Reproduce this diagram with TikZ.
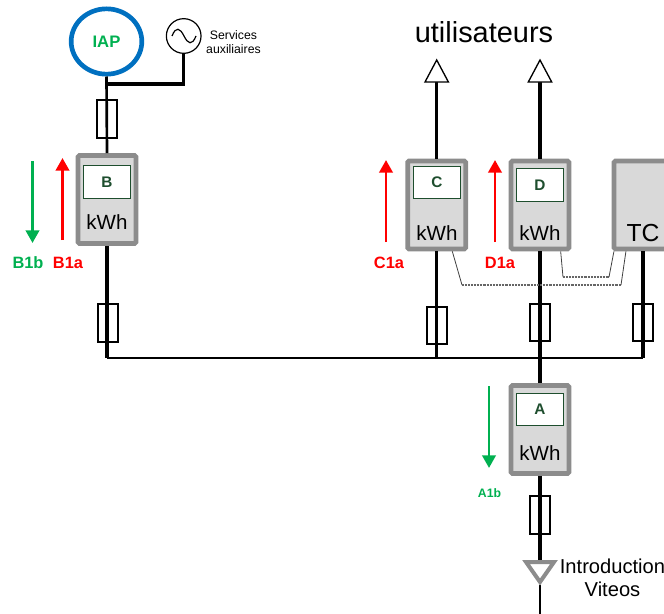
\documentclass[tikz,border=0pt]{standalone}
\usepackage{fontspec}
\setmainfont{Liberation Sans}
\usetikzlibrary{arrows.meta,shapes.geometric}
\tikzset{
  wire/.style={line width=2.5pt,color=black},
  thinwire/.style={line width=2pt,color=black},
  fuse/.style={shape=rectangle,draw,line width=1.7pt,minimum width=15pt,minimum height=28pt,inner sep=0pt},
  meter/.style={shape=rectangle,draw=meter_edge,fill=meter_bg,line width=3.5pt,rounded corners=1pt,minimum width=43.5pt,minimum height=66pt,inner sep=0pt},
  screen/.style={shape=rectangle,draw=screen_ink,fill=white,line width=0.7pt,minimum width=35.5pt,minimum height=24.5pt,inner sep=0pt,text=screen_ink,font=\fontsize{11.5}{12}\selectfont\bfseries},
  kwh/.style={inner sep=0pt,font=\fontsize{15.4}{16}\selectfont},
  sense/.style={line width=0.6pt,color=black!75},
  sensedot/.style={line width=0.8pt,color=black!60,dash pattern=on 0.7pt off 0.4pt},
  flowin/.style={line width=2.2pt,color=flow_green,-{Triangle[length=9.5pt,width=10pt]}},
  flowout/.style={line width=2.2pt,color=red,-{Triangle[length=9.5pt,width=10pt]}},
  flowlabel/.style={inner sep=0pt,font=\fontsize{12.3}{13}\selectfont\bfseries}
}
\begin{document}
\begin{tikzpicture}[x=0.75pt,y=-0.75pt]
\definecolor{meter_edge}{RGB}{140,140,140}
\definecolor{meter_bg}{RGB}{217,217,217}
\definecolor{screen_ink}{RGB}{30,78,46}
\definecolor{flow_green}{RGB}{0,176,80}
\definecolor{iap_blue}{RGB}{0,112,192}
\useasboundingbox (0,0) rectangle (664,614);

% source side
\node[shape=ellipse,draw=iap_blue,line width=3.5pt,minimum width=53pt,minimum height=49pt,inner sep=0pt,text=flow_green,font=\fontsize{12.5}{13}\selectfont\bfseries] (iap) at (106.5,41.5) {IAP};
\node[shape=circle,draw,line width=0.9pt,minimum size=26pt,inner sep=0pt] (gen) at (183.7,36) {};
\draw[line width=0.9pt] (172,36) .. controls (176,26) and (180,28) .. (184,36) .. controls (188,44) and (192,46) .. (196,36);
\node[align=center,inner sep=0pt,font=\fontsize{9.2}{10.5}\selectfont] (aux) at (233.5,42) {Services\\auxiliaires};

% meters
\node[meter] (meterB) at (107,199.5) {};
\node[meter] (meterC) at (436.7,205) {};
\node[meter] (meterD) at (540,205) {};
\node[meter] (meterA) at (540,429.5) {};
\node[meter] (meterTC) at (643,205) {};
\node[screen] (screenB) at (107,182) {B};
\node[screen] (screenC) at (437,182.5) {C};
\node[screen] (screenD) at (540,185) {D};
\node[screen] (screenA) at (540,409.5) {A};
\node[kwh] (kwhB) at (107,222) {kWh};
\node[kwh] (kwhC) at (437,233) {kWh};
\node[kwh] (kwhD) at (540,233) {kWh};
\node[kwh] (kwhA) at (540,453) {kWh};
\node[inner sep=0pt,font=\fontsize{18.5}{19}\selectfont] (tc) at (643,233) {TC};

% fuses
\node[fuse] (fuseS) at (107,119) {};
\node[fuse] (fuseB) at (108,323) {};
\node[fuse] (fuseC) at (437,325.5) {};
\node[fuse] (fuseD) at (540,322.5) {};
\node[fuse] (fuseT) at (643,322.5) {};
\node[fuse] (fuseA) at (540,515) {};

% wiring
\coordinate (tapS) at (107,84);
\coordinate (tapG) at (183.7,84);
\coordinate (busB) at (107,358);
\coordinate (busC) at (436.7,358);
\coordinate (busD) at (540,358);
\coordinate (busT) at (643,358);
\coordinate (loadC) at (436.7,82);
\coordinate (loadD) at (540,82);
\coordinate (feed) at (540,560);
\coordinate (feedout) at (540,585);
\coordinate (feedend) at (540,614);
\draw[thinwire] (iap.south) to (meterB.north);
\draw[wire,line join=miter] (tapS) to (tapG) to (gen.south);
\draw[wire] (meterB.south) to (busB);
\draw[thinwire] (busB) to (busT);
\draw[wire] (meterC.south) to (busC);
\draw[wire] (meterD.south) to (meterA.north);
\draw[wire] (meterTC.south) to (busT);
\draw[wire] (loadC) to (meterC.north);
\draw[wire] (loadD) to (meterD.north);
\draw[wire] (meterA.south) to (feed);
\draw[line width=1.8pt] (feedout) to (feedend);

% load and feed triangles
\draw[line width=1pt,fill=white] (425,82) to (436.7,60) to (448.4,82) to cycle;
\draw[line width=1pt,fill=white] (528.3,82) to (540,60) to (551.7,82) to cycle;
\draw[line width=3pt,draw=meter_edge,fill=white] (526,562) to (554,562) to (540,582) to cycle;
\node[inner sep=0pt,font=\fontsize{21.7}{22}\selectfont] (users) at (484,32) {utilisateurs};
\node[align=center,inner sep=0pt,font=\fontsize{15.1}{17.5}\selectfont] (intro) at (612.5,578) {Introduction\\Viteos};

% sensing links
\coordinate (linkC1) at (462,285);
\coordinate (linkC2) at (621,285);
\coordinate (linkD1) at (563,277);
\coordinate (linkD2) at (609,277);
\draw[sense] ([xshift=11.7pt]meterC.south) to (linkC1);
\draw[sensedot] (linkC1) to (linkC2);
\draw[sense] (linkC2) to ([xshift=-12.8pt]meterTC.south);
\draw[sense] ([xshift=15.5pt]meterD.south) to (linkD1);
\draw[sensedot] (linkD1) to (linkD2);
\draw[sense] (linkD2) to ([xshift=-21.8pt]meterTC.south);

% flows
\coordinate (flowB1b) at (32.5,161);
\coordinate (flowB1bend) at (32.5,243);
\coordinate (flowB1a) at (62.5,240);
\coordinate (flowB1aend) at (62.5,158);
\coordinate (flowC1a) at (386,242);
\coordinate (flowC1aend) at (386,160);
\coordinate (flowD1a) at (495,242);
\coordinate (flowD1aend) at (495,160);
\coordinate (flowA1b) at (489,386);
\coordinate (flowA1bend) at (489,468);
\draw[flowin] (flowB1b) to (flowB1bend);
\draw[flowout] (flowB1a) to (flowB1aend);
\draw[flowout] (flowC1a) to (flowC1aend);
\draw[flowout] (flowD1a) to (flowD1aend);
\draw[flowin] (flowA1b) to (flowA1bend);
\node[flowlabel,text=flow_green] (labelB1b) at (28,263) {B1b};
\node[flowlabel,text=red] (labelB1a) at (68,263) {B1a};
\node[flowlabel,text=red] (labelC1a) at (389,263) {C1a};
\node[flowlabel,text=red] (labelD1a) at (500,263) {D1a};
\node[inner sep=0pt,text=flow_green,font=\fontsize{9.2}{10}\selectfont\bfseries] (labelA1b) at (489.5,493) {A1b};
\end{tikzpicture}
\end{document}
